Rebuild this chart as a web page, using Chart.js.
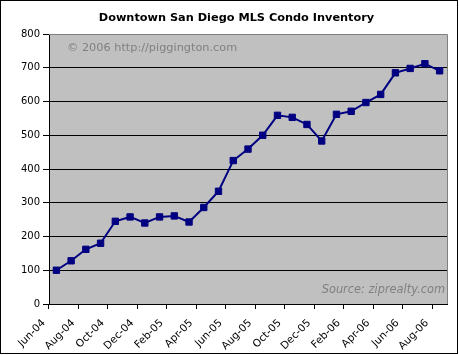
<!DOCTYPE html>
<html>
<head>
<meta charset="utf-8">
<script src="https://cdn.jsdelivr.net/npm/chart.js@4/dist/chart.umd.min.js"></script>
<style>
  html, body { margin: 0; padding: 0; background: #fff; }
  #wrap { width: 459px; height: 355px; }
</style>
</head>
<body>
<div id="wrap"><canvas id="c" width="459" height="355"></canvas></div>
<script>
const months = ["Jun-04","Jul-04","Aug-04","Sep-04","Oct-04","Nov-04","Dec-04","Jan-05","Feb-05","Mar-05","Apr-05","May-05","Jun-05","Jul-05","Aug-05","Sep-05","Oct-05","Nov-05","Dec-05","Jan-06","Feb-06","Mar-06","Apr-06","May-06","Jun-06","Jul-06","Aug-06"];
const inventory = [100,128,162,180,245,258,240,258,261,243,286,334,425,459,500,559,553,532,483,562,571,597,621,685,698,712,691];
const yTicks = [0,100,200,300,400,500,600,700,800];
const titleText = "Downtown San Diego MLS Condo Inventory";
const watermarkText = "\u00A9 2006 http://piggington.com";
const sourceText = "Source: ziprealty.com";

const FONT = "'DejaVu Sans', Verdana, sans-serif";

const decor = {
  id: 'decor',
  beforeDraw(chart) {
    const ctx = chart.ctx, a = chart.chartArea;
    ctx.save();
    ctx.fillStyle = '#ffffff';
    ctx.fillRect(0, 0, chart.width, chart.height);
    ctx.fillStyle = '#c0c0c0';
    ctx.fillRect(a.left, a.top, a.right - a.left, a.bottom - a.top);
    ctx.restore();
  },
  beforeDatasetsDraw(chart) {
    const ctx = chart.ctx, a = chart.chartArea;
    ctx.save();
    ctx.strokeStyle = '#808080';
    ctx.lineWidth = 1;
    ctx.beginPath();
    ctx.moveTo(a.left, Math.round(a.top) + 0.5);
    ctx.lineTo(Math.round(a.right) + 0.5, Math.round(a.top) + 0.5);
    ctx.lineTo(Math.round(a.right) + 0.5, a.bottom);
    ctx.stroke();
    ctx.fillStyle = '#808080';
    ctx.font = "11.3px " + FONT;
    ctx.textBaseline = 'middle';
    ctx.textAlign = 'left';
    ctx.fillText(watermarkText, 67, 48.5);
    ctx.font = "italic 11.4px " + FONT;
    ctx.textAlign = 'right';
    ctx.fillText(sourceText, 445, 290);
    ctx.restore();
  },
  afterDraw(chart) {
    const ctx = chart.ctx;
    ctx.save();
    ctx.fillStyle = '#000000';
    ctx.font = "bold 11.3px " + FONT;
    ctx.textAlign = 'center';
    ctx.textBaseline = 'middle';
    ctx.fillText(titleText, 236.5, 18);
    ctx.strokeStyle = '#000000';
    ctx.lineWidth = 1;
    ctx.strokeRect(0.5, 0.5, 457, 353);
    ctx.restore();
  }
};

new Chart(document.getElementById('c'), {
  type: 'line',
  data: {
    labels: months,
    datasets: [{
      data: inventory,
      borderColor: '#000080',
      backgroundColor: '#000080',
      borderWidth: 2,
      tension: 0,
      pointStyle: 'rect',
      pointRadius: 4.5,
      pointBorderWidth: 1,
      pointBackgroundColor: '#000080',
      pointBorderColor: '#000080',
      clip: false
    }]
  },
  options: {
    responsive: false,
    animation: false,
    devicePixelRatio: 1,
    layout: { padding: { top: 34, right: 12, left: 0, bottom: 0 } },
    plugins: { legend: { display: false }, tooltip: { enabled: false }, title: { display: false } },
    scales: {
      x: {
        type: 'category',
        offset: true,
        afterFit(scale) { scale.height = 51; },
        border: { display: true, color: '#000000', width: 1 },
        grid: {
          offset: true,
          drawOnChartArea: false,
          drawTicks: true,
          tickLength: 5,
          color: (c) => (c.index !== undefined && c.index % 2 === 0) ? '#000000' : 'rgba(0,0,0,0)',
          tickColor: (c) => (c.index !== undefined && c.index % 2 === 0) ? '#000000' : 'rgba(0,0,0,0)'
        },
        ticks: {
          autoSkip: false,
          maxRotation: 45,
          minRotation: 45,
          padding: 8,
          labelOffset: -12.5,
          color: '#000000',
          font: { family: FONT, size: 10.5 },
          callback: function(v, i) { return i % 2 === 0 ? this.getLabelForValue(v) : ''; }
        }
      },
      y: {
        min: 0,
        max: 800,
        afterFit(scale) { scale.width = 49; },
        afterBuildTicks(scale) { scale.ticks = yTicks.map(v => ({ value: v })); },
        border: { display: true, color: '#000000', width: 1 },
        grid: {
          drawTicks: true,
          tickLength: 6,
          color: (c) => (c.tick && c.tick.value === 800) ? 'rgba(0,0,0,0)' : '#000000',
          tickColor: '#000000',
          lineWidth: 1
        },
        ticks: {
          stepSize: 100,
          padding: 3,
          color: '#000000',
          font: { family: FONT, size: 10 }
        }
      }
    }
  },
  plugins: [decor]
});
</script>
</body>
</html>
